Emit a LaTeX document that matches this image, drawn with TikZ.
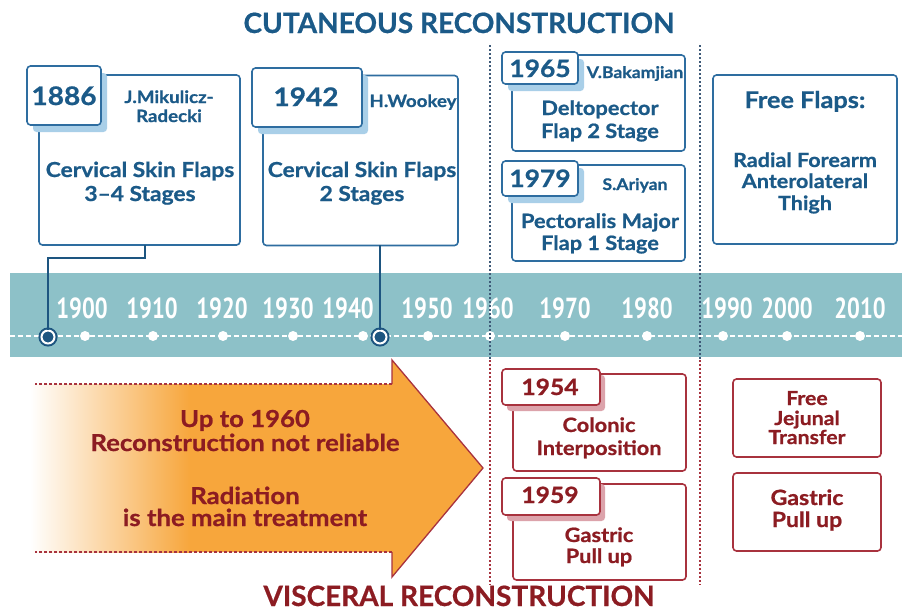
\documentclass[tikz,border=0pt]{standalone}
\usepackage{fontspec}
\setmainfont{Lato}[BoldFeatures={FakeBold=0.6}]
\newfontfamily\widefont{Lato}[FakeStretch=1.1, BoldFeatures={FakeBold=0.8}]
\newfontfamily\condfont{PT Sans}[FakeStretch=0.78]
\usetikzlibrary{shadows}
\definecolor{bluT}{HTML}{1B5A88}
\definecolor{bluB}{HTML}{2E6DA0}
\definecolor{bluD}{HTML}{1D5580}
\definecolor{bluS}{HTML}{A9CFE8}
\definecolor{bandC}{HTML}{8DC1C8}
\definecolor{dotC}{HTML}{3E5A78}
\definecolor{redT}{HTML}{8C1C22}
\definecolor{redB}{HTML}{A8323E}
\definecolor{redS}{HTML}{DCA3AB}
\definecolor{orng}{HTML}{F7A63C}
\newcommand{\wfs}[1]{\widefont\bfseries\fontsize{#1}{#1}\selectfont}
\begin{document}
\begin{tikzpicture}[x=1pt,y=-1pt,
  bbox/.style={draw=bluB, line width=1.6pt, rounded corners=3.5pt, fill=white, inner sep=0pt},
  btab/.style={bbox, drop shadow={fill=bluS, opacity=1, shadow xshift=6pt, shadow yshift=-7pt}},
  rbox/.style={draw=redB, line width=1.6pt, rounded corners=3.5pt, fill=white, inner sep=0pt},
  rtab/.style={rbox, drop shadow={fill=redS, opacity=1, shadow xshift=5pt, shadow yshift=-6pt}},
  yr/.style={anchor=base, text=bluT, font=\wfs{25.5}, inner sep=0pt},
  ryr/.style={anchor=base, text=redT, font=\wfs{22.4}, inner sep=0pt},
  auth/.style={anchor=base, text=bluT, font=\wfs{17}, inner sep=0pt},
  btxt/.style={anchor=base, text=bluT, font=\wfs{20.7}, inner sep=0pt},
  rtxt/.style={anchor=base, text=redT, font=\wfs{19.8}, inner sep=0pt},
  atxt/.style={anchor=base, text=redT, font=\wfs{23.4}, inner sep=0pt},
  ttl/.style={anchor=base, font=\bfseries\fontsize{28}{28}\selectfont, inner sep=0pt},
  tick/.style={anchor=base, text=white, font=\condfont\bfseries\fontsize{29}{29}\selectfont, inner sep=0pt},
  wdot/.style={circle, fill=white, minimum size=10pt, inner sep=0pt},
  bigdot/.style={circle, fill=bluD, draw=bluD, line width=2pt, double=white, double distance=2pt, minimum size=13pt, inner sep=0pt},
  conn/.style={draw=bluD, line width=1.6pt},
  bdots/.style={draw=dotC, line width=1.8pt, dash pattern=on 1.8pt off 2.2pt},
  rdots/.style={draw=redB, line width=1.8pt, dash pattern=on 1.8pt off 2.2pt}
]
\useasboundingbox (0,0) rectangle (902,611);

% titles
\node[ttl, text=bluT] (tcut) at (459,33) {CUTANEOUS RECONSTRUCTION};
\node[ttl, text=redT] (tvis) at (459,606) {VISCERAL RECONSTRUCTION};

% timeline band
\node[fill=bandC, minimum width=892pt, minimum height=84pt, inner sep=0pt] (band) at (456,315) {};

% vertical dotted separators
\coordinate (v1t) at (490,45); \coordinate (v1m) at (490,360); \coordinate (v1b) at (490,585);
\coordinate (v2t) at (700,45); \coordinate (v2m) at (700,360); \coordinate (v2b) at (700,585);

% dashed timeline
\coordinate (tlL) at (10,336); \coordinate (tlR) at (902,336);
\draw[white, line width=1.6pt, dash pattern=on 5pt off 3pt] (tlL) -- (tlR);

\foreach \x/\lx/\n in {85/82/1900,153/152/1910,223/222/1920,293/288/1930,363/348/1940,428/427/1950,490/488/1960,565/565/1970,647/647/1980,723/727/1990,787/787/2000,860/860/2010}{
  \node[wdot] (d\n) at (\x,336) {};
  \node[tick] (y\n) at (\lx,318) {\n};
}

\draw[bdots] (v1t) -- (v1m);
\draw[bdots] (v2t) -- (v2m);
\draw[rdots] (v1m) -- (v1b);
\draw[rdots] (v2m) -- (v2b);

% ---------- Box 1886 ----------
\node[bbox, minimum width=201pt, minimum height=170pt] (b1) at (139.5,160) {};
\node[btab, minimum width=74pt, minimum height=59pt] (b1t) at (64,95.5) {};
\node[yr] (b1y) at (64,105) {1886};
\node[auth] (b1a) at (169,103) {J.Mikulicz-};
\node[auth] (b1b) at (169,122) {Radecki};
\node[btxt] (b1c) at (140,177) {Cervical Skin Flaps};
\node[btxt] (b1d) at (140,201) {3–4 Stages};

% ---------- Box 1942 ----------
\node[bbox, minimum width=195pt, minimum height=170pt] (b2) at (360.5,160.5) {};
\node[btab, minimum width=110pt, minimum height=59pt] (b2t) at (307,97.5) {};
\node[yr] (b2y) at (306,106) {1942};
\node[auth] (b2a) at (413,107) {H.Wookey};
\node[btxt] (b2c) at (362,177) {Cervical Skin Flaps};
\node[btxt] (b2d) at (362,201) {2 Stages};

% connectors to the timeline
\node[bigdot] (c1) at (48,337) {};
\node[bigdot] (c2) at (380,337) {};
\coordinate (c1a) at (145,245);
\coordinate (c1b) at (48,258);
\coordinate (c2a) at (380,245);
\draw[conn] (c1a) |- (c1b) -- (c1);
\draw[conn] (c2a) -- (c2);

% ---------- Box 1965 ----------
\node[bbox, minimum width=173pt, minimum height=96pt] (b3) at (598.5,103) {};
\node[btab, minimum width=76pt, minimum height=32pt] (b3t) at (540,68) {};
\node[yr, font=\wfs{24}] (b3y) at (540,77) {1965};
\node[auth, font=\wfs{16}] (b3a) at (635,78) {V.Bakamjian};
\node[btxt, font=\wfs{19.8}] (b3c) at (600,115) {Deltopector};
\node[btxt, font=\wfs{19.8}] (b3d) at (600,138) {Flap 2 Stage};

% ---------- Box 1979 ----------
\node[bbox, minimum width=173pt, minimum height=96pt] (b4) at (598.5,213) {};
\node[btab, minimum width=76pt, minimum height=35pt] (b4t) at (540,178.5) {};
\node[yr, font=\wfs{24}] (b4y) at (540,187) {1979};
\node[auth, font=\wfs{16}] (b4a) at (635,190) {S.Ariyan};
\node[btxt, font=\wfs{19.8}] (b4c) at (600,228) {Pectoralis Major};
\node[btxt, font=\wfs{19.8}] (b4d) at (600,250) {Flap 1 Stage};

% ---------- Free flaps ----------
\node[bbox, minimum width=184pt, minimum height=169pt] (b5) at (805,159.5) {};
\node[btxt, font=\wfs{23}] (b5a) at (805,108) {Free Flaps:};
\node[btxt, font=\wfs{19.6}] (b5b) at (805,167) {Radial Forearm};
\node[btxt, font=\wfs{19.6}] (b5c) at (805,188) {Anterolateral};
\node[btxt, font=\wfs{19.6}] (b5d) at (805,210) {Thigh};

% ---------- Arrow ----------
\fill[orng] (30,384) -- (392,384) -- (392,360) -- (483,468) -- (392,577) -- (392,552) -- (30,552) -- cycle;
\shade[left color=white, right color=orng] (30,384) rectangle (190,552);
\draw[redB, line width=1.3pt, dash pattern=on 3pt off 2pt] (392,384) -- (35,384);
\draw[redB, line width=1.3pt, dash pattern=on 3pt off 2pt] (392,552) -- (35,552);
\draw[redB, line width=1.3pt, line join=miter] (392,384) -- (392,360) -- (483,468) -- (392,577) -- (392,552);
\node[atxt] (a1) at (245,427) {Up to 1960};
\node[atxt] (a2) at (245,451) {Reconstruction not reliable};
\node[atxt] (a3) at (245,504) {Radiation};
\node[atxt] (a4) at (245,526) {is the main treatment};

% ---------- Box 1954 ----------
\node[rbox, minimum width=173pt, minimum height=97pt] (r1) at (599.5,422.5) {};
\node[rtab, minimum width=98pt, minimum height=36pt] (r1t) at (551,387) {};
\node[ryr] (r1y) at (550,395) {1954};
\node[rtxt] (r1a) at (599,432) {Colonic};
\node[rtxt] (r1b) at (599,455) {Interposition};

% ---------- Box 1959 ----------
\node[rbox, minimum width=173pt, minimum height=96pt] (r2) at (599.5,532) {};
\node[rtab, minimum width=98pt, minimum height=37pt] (r2t) at (551,496.5) {};
\node[ryr] (r2y) at (550,503) {1959};
\node[rtxt] (r2a) at (599,542) {Gastric};
\node[rtxt] (r2b) at (599,563) {Pull up};

% ---------- Free Jejunal Transfer ----------
\node[rbox, minimum width=148pt, minimum height=78pt] (r3) at (807,418) {};
\node[rtxt, font=\wfs{19.3}] (r3a) at (807,405) {Free};
\node[rtxt, font=\wfs{19.3}] (r3b) at (807,425) {Jejunal};
\node[rtxt, font=\wfs{19.3}] (r3c) at (807,444) {Transfer};

% ---------- Gastric Pull up ----------
\node[rbox, minimum width=148pt, minimum height=78pt] (r4) at (807,512) {};
\node[rtxt, font=\wfs{21}] (r4a) at (807,505) {Gastric};
\node[rtxt, font=\wfs{21}] (r4b) at (807,527) {Pull up};
\end{tikzpicture}
\end{document}
